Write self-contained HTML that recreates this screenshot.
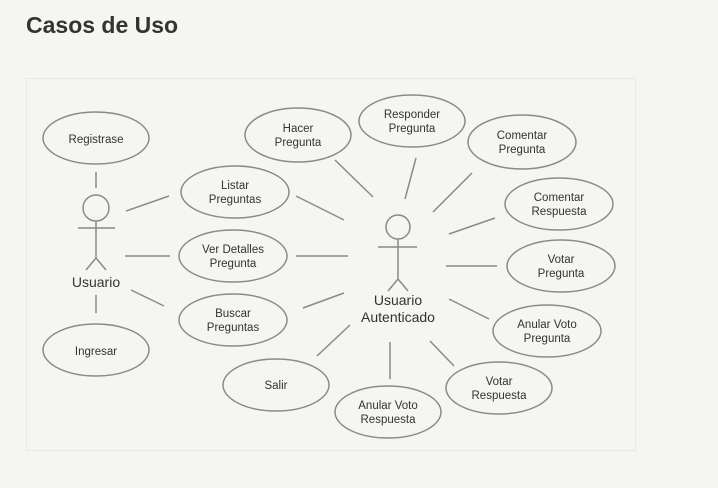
<!DOCTYPE html>
<html><head><meta charset="utf-8"><style>
html,body{margin:0;padding:0;background:#f5f5f1;width:718px;height:488px;overflow:hidden}
svg{position:absolute;left:0;top:0}
</style></head><body>
<svg width="718" height="488" viewBox="0 0 718 488" xmlns="http://www.w3.org/2000/svg">
<text x="26" y="33" font-family="Liberation Sans, sans-serif" font-weight="bold" font-size="23" fill="#333">Casos de Uso</text>
<rect x="26.5" y="78.5" width="609" height="372" fill="#f5f5f1" stroke="#e8e8e4"/>
<g fill="none" stroke="#8a8a8a" stroke-width="1.5">
<ellipse cx="96" cy="138" rx="53" ry="26"/>
<ellipse cx="96" cy="350" rx="53" ry="26"/>
<ellipse cx="235" cy="192" rx="54" ry="26"/>
<ellipse cx="233" cy="256" rx="54" ry="26"/>
<ellipse cx="233" cy="320" rx="54" ry="26"/>
<ellipse cx="298" cy="135" rx="53" ry="27"/>
<ellipse cx="412" cy="121" rx="53" ry="26"/>
<ellipse cx="522" cy="142" rx="54" ry="27"/>
<ellipse cx="559" cy="204" rx="54" ry="26"/>
<ellipse cx="561" cy="266" rx="54" ry="26"/>
<ellipse cx="547" cy="331" rx="54" ry="26"/>
<ellipse cx="499" cy="388" rx="53" ry="26"/>
<ellipse cx="388" cy="412" rx="53" ry="26"/>
<ellipse cx="276" cy="385" rx="53" ry="26"/>
<circle cx="96" cy="208" r="13"/>
<path d="M96 221V258M78 228H115M96 258L86 270M96 258L106 270"/>
<circle cx="398" cy="227" r="12"/>
<path d="M398 239V279M378 247H417M398 279L388 291M398 279L408 291"/>
<path d="M96 172V188M96 295V313M126 211L169 196M125 256H170M131 290L164 306"/>
<path d="M296 196L344 220M296 256H348M303 308L344 293M317 356L350 325M335 160L373 197M416 158L405 199M472 173L433 212M495 218L449 234M446 266H497M449 299L489 319M430 341L454 366M390 342V379"/>
</g>
<g font-family="Liberation Sans, sans-serif" font-size="11.5" fill="#333" text-anchor="middle">
<text x="96" y="143">Registrase</text>
<text x="96" y="355">Ingresar</text>
<text x="235" y="189">Listar</text><text x="235" y="203">Preguntas</text>
<text x="233" y="253">Ver Detalles</text><text x="233" y="267">Pregunta</text>
<text x="233" y="317">Buscar</text><text x="233" y="331">Preguntas</text>
<text x="298" y="132">Hacer</text><text x="298" y="146">Pregunta</text>
<text x="412" y="118">Responder</text><text x="412" y="132">Pregunta</text>
<text x="522" y="139">Comentar</text><text x="522" y="153">Pregunta</text>
<text x="559" y="201">Comentar</text><text x="559" y="215">Respuesta</text>
<text x="561" y="263">Votar</text><text x="561" y="277">Pregunta</text>
<text x="547" y="328">Anular Voto</text><text x="547" y="342">Pregunta</text>
<text x="499" y="385">Votar</text><text x="499" y="399">Respuesta</text>
<text x="388" y="409">Anular Voto</text><text x="388" y="423">Respuesta</text>
<text x="276" y="389">Salir</text>
<text x="96" y="287" font-size="14">Usuario</text>
<text x="398" y="305" font-size="14">Usuario</text>
<text x="398" y="322" font-size="14">Autenticado</text>
</g>
</svg>
</body></html>
